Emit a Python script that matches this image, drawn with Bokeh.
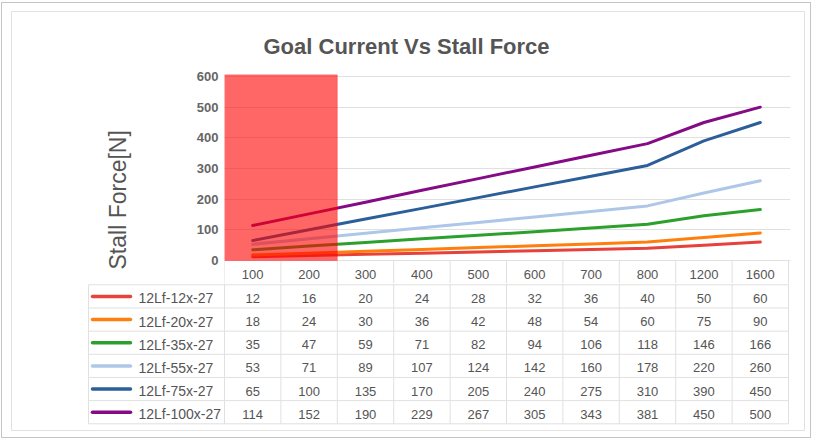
from bokeh.plotting import figure
from bokeh.models import Range1d, BoxAnnotation, Title, FixedTicker
from bokeh.layouts import column, row
from bokeh.embed import file_html
from bokeh.resources import INLINE
from bokeh.core.properties import value

# ---------------- data ----------------
categories = ["100", "200", "300", "400", "500", "600", "700", "800", "1200", "1600"]
series_names = ["12Lf-12x-27", "12Lf-20x-27", "12Lf-35x-27",
                "12Lf-55x-27", "12Lf-75x-27", "12Lf-100x-27"]
s12 = [12, 16, 20, 24, 28, 32, 36, 40, 50, 60]
s20 = [18, 24, 30, 36, 42, 48, 54, 60, 75, 90]
s35 = [35, 47, 59, 71, 82, 94, 106, 118, 146, 166]
s55 = [53, 71, 89, 107, 124, 142, 160, 178, 220, 260]
s75 = [65, 100, 135, 170, 205, 240, 275, 310, 390, 450]
s100 = [114, 152, 190, 229, 267, 305, 343, 381, 450, 500]
series_values = [s12, s20, s35, s55, s75, s100]
y_ticks = [0, 100, 200, 300, 400, 500, 600]
highlight = ["100", "200"]

colors = ["#e8403a", "#ff7f0e", "#2ca02c", "#aec7e8", "#2c5f9a", "#850a85"]

# ---------------- style / layout constants ----------------
FONT = "Liberation Sans"
TXT = "#555555"
GRID = "#e0e0e0"
COL_PX = 56.4          # width of one category column in px
ROW_PX = 23.17         # table row height in px
n = len(categories)
x_end = n + 2 / COL_PX
leg_left = -(224 - 88) / COL_PX
xs = [i + 0.5 for i in range(n)]

# ---------------- top: chart + header row ----------------
top = figure(width=792, height=271, output_backend="svg", toolbar_location=None,
             x_range=Range1d(0, x_end), y_range=Range1d(-75, 606.5),
             x_axis_location=None, title="Goal Current Vs Stall Force",
             min_border_left=212, min_border_right=14, min_border_top=62,
             min_border_bottom=0)
top.outline_line_color = None
top.background_fill_color = "white"
top.border_fill_color = "white"
top.title.align = "left"
top.title.offset = 39
top.title.standoff = 32
top.title.text_font = FONT
top.title.text_font_size = "22px"
top.title.text_font_style = "bold"
top.title.text_color = TXT

top.xgrid.visible = False
top.ygrid.ticker = FixedTicker(ticks=y_ticks)
top.ygrid.grid_line_color = GRID
top.yaxis.ticker = FixedTicker(ticks=y_ticks)
top.yaxis.axis_line_color = None
top.yaxis.major_tick_line_color = None
top.yaxis.minor_tick_line_color = None
top.yaxis.major_tick_out = 0
top.yaxis.major_tick_in = 0
top.yaxis.major_label_standoff = 6
top.yaxis.major_label_text_font = FONT
top.yaxis.major_label_text_font_size = "13px"
top.yaxis.major_label_text_font_style = "bold"
top.yaxis.major_label_text_color = "#666666"

ylab = Title(text="Stall Force[N]", align="left", offset=14, standoff=126,
             text_font=FONT, text_font_size="23px", text_font_style="normal",
             text_color=TXT)
top.add_layout(ylab, "left")

for vals, c in zip(series_values, colors):
    top.line(xs, vals, line_width=3, line_color=c, line_join="round", line_cap="round")

# header row of the table (category labels) below the zero line
bounds = list(range(n + 1))
top.segment(x0=bounds, y0=[0] * len(bounds), x1=bounds, y1=[-75] * len(bounds),
            line_color=GRID, line_width=1)
top.text(x=xs, y=[-37.5] * n, text=categories, text_align="center",
         text_baseline="middle", y_offset=3, text_font=value(FONT),
         text_font_size="13px", text_color=TXT)

box = BoxAnnotation(left=categories.index(highlight[0]),
                    right=categories.index(highlight[-1]) + 1, bottom=0,
                    fill_color="#ff0000", fill_alpha=0.6,
                    line_color="#ff0000", line_alpha=0.3, line_width=1)
top.add_layout(box)

# ---------------- bottom: table rows ----------------
bot = figure(width=792, height=147, output_backend="svg", toolbar_location=None,
             x_range=Range1d(-(224 - 87) / COL_PX, x_end),
             y_range=Range1d(6 + (426 - 423.3) / ROW_PX, -(284.3 - 283) / ROW_PX),
             x_axis_location=None, y_axis_location=None,
             min_border_left=75, min_border_right=14, min_border_top=0,
             min_border_bottom=4)
bot.outline_line_color = None
bot.xgrid.visible = False
bot.ygrid.visible = False
bot.background_fill_color = "white"
bot.border_fill_color = "white"

nrows = len(series_names)
hrows = list(range(nrows + 1))
bot.segment(x0=[leg_left] * len(hrows), y0=hrows, x1=[n] * len(hrows), y1=hrows,
            line_color=GRID, line_width=1)
vx = [leg_left] + bounds
vy0 = [0] + [bot.y_range.end] * len(bounds)
bot.segment(x0=vx, y0=vy0, x1=vx, y1=[nrows] * len(vx), line_color=GRID, line_width=1)

cx, cy, ct = [], [], []
for r, vals in enumerate(series_values):
    for i, v in enumerate(vals):
        cx.append(i + 0.5)
        cy.append(r + 0.5)
        ct.append(str(v))
bot.text(x=cx, y=cy, text=ct, text_align="center", text_baseline="middle",
         y_offset=2, text_font=value(FONT), text_font_size="13px", text_color=TXT)

ry = [r + 0.5 for r in range(nrows)]
bot.segment(x0=[leg_left + 4 / COL_PX] * nrows, y0=ry,
            x1=[leg_left + 42 / COL_PX] * nrows, y1=ry,
            line_color=colors, line_width=3.5, line_cap="round")
bot.text(x=[leg_left + 50 / COL_PX] * nrows, y=ry, text=series_names,
         text_align="left", text_baseline="middle", y_offset=2,
         text_font=value(FONT), text_font_size="14px", text_color=TXT)

root = column(top, row(bot), margin=(11, 0, 0, 11),
              styles={"border": "1px solid #e2e2e2",
                      "box-shadow": "-2px -1px 0 7px #ffffff, -2px -1px 0 8px #c4c4c4",
                      "background-color": "white"})

open("out.html", "w").write(file_html(root, INLINE))
